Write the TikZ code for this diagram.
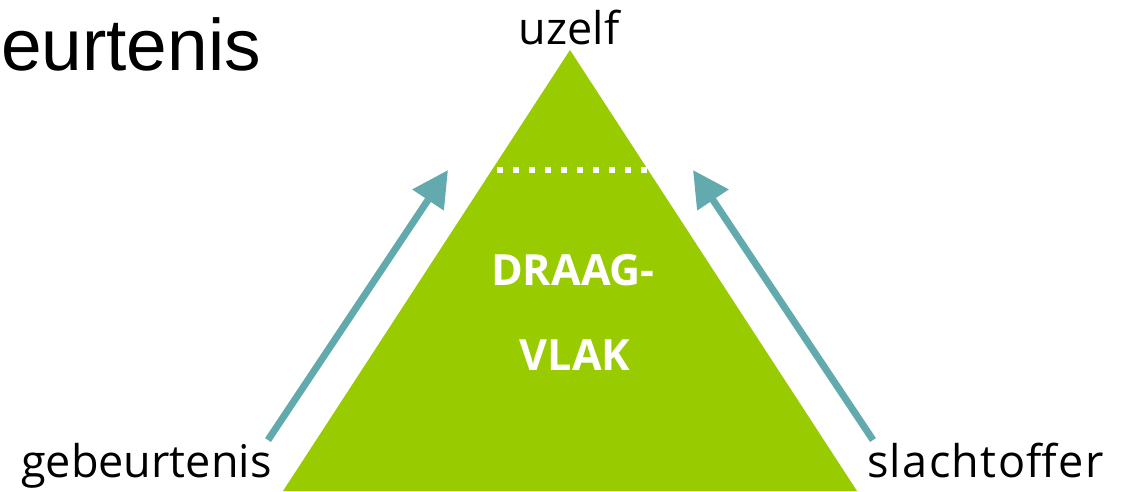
\documentclass[tikz,border=0pt]{standalone}
\usepackage{fontspec}
\setmainfont{Open Sans}
\newfontfamily\arialfont{Liberation Sans}
\usetikzlibrary{arrows.meta}
\definecolor{drgreen}{HTML}{99CC00}
\definecolor{drteal}{HTML}{63AAAF}
\tikzset{
  label/.style={font=\fontsize{45}{54}\selectfont, text=black, inner sep=0pt},
  inner/.style={font=\fontsize{43}{52}\selectfont\bfseries, text=white, inner sep=0pt},
  uparrow/.style={draw=drteal, line width=7pt, -{Triangle[length=36pt,width=36pt]}},
  dots/.style={draw=white, line width=6pt, dash pattern=on 6pt off 10pt}
}
\begin{document}
\begin{tikzpicture}[x=1pt,y=-1pt]
\useasboundingbox[fill=white] (0,0) rectangle (1124,491);
\coordinate (apex) at (570,50);
\coordinate (bl) at (283,491);
\coordinate (br) at (857,491);
\fill[drgreen] (apex) -- (bl) -- (br) -- cycle;
\coordinate (dl) at (497,170);
\coordinate (dr) at (652,170);
\draw[dots] (dl) -- (dr);
\node[inner] (draag) at (573,285) [anchor=base] {DRAAG-};
\node[inner] (vlak) at (575,370) [anchor=base] {VLAK};
\node[label, anchor=base] (uzelf) at (569,44) {uzelf};
\node[label, anchor=base west] (geb) at (21,477) {gebeurtenis};
\node[label, anchor=base west, font=\fontsize{45}{54}\selectfont\addfontfeature{LetterSpace=3}] (sla) at (867,477) {slachtoffer};
\node[font=\arialfont\fontsize{73}{88}\selectfont, inner sep=0pt, anchor=base east] (title) at (261,70) {eurtenis};
\coordinate (lt) at (268,440);
\coordinate (lh) at (448,170);
\coordinate (rt) at (873,440);
\coordinate (rh) at (693,170);
\draw[uparrow] (lt) -- (lh);
\draw[uparrow] (rt) -- (rh);
\end{tikzpicture}
\end{document}
